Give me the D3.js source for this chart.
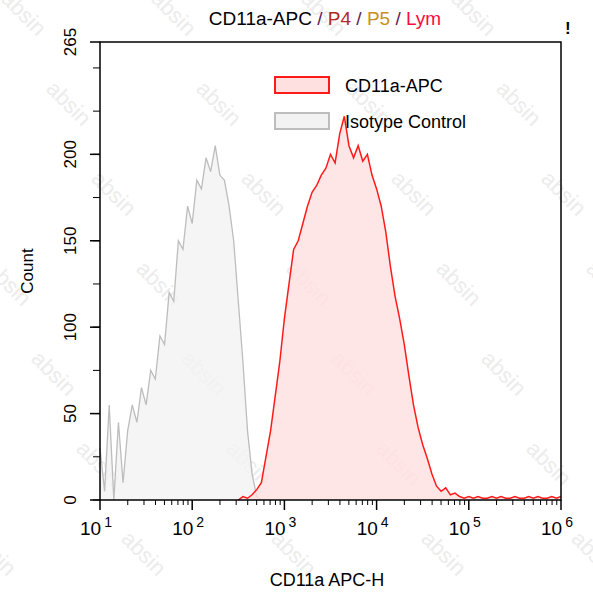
<!DOCTYPE html>
<html><head><meta charset="utf-8">
<script src="https://cdn.jsdelivr.net/npm/d3@7"></script>
<style>body{margin:0;background:#fff}text{font-family:"Liberation Sans",Arial,sans-serif}</style>
</head><body><svg id="svg" width="593" height="600"></svg>
<script>
// isotype control: counts on a log10 grid starting at 1.00, step 0.05
var isoStart = 1.0, step = 0.05
var isoCounts = [30,5,55,0,45,10,40,55,45,65,55,75,70,95,90,120,115,150,145,170,160,185,180,198,190,205,188,185,170,150,115,80,40,15,2,0]
// CD11a-APC: counts on a log10 grid starting at 2.50
var cdStart = 2.5
var cdCounts = [0,2,1,3,6,10,25,40,60,80,105,125,145,150,160,170,178,182,188,192,200,195,212,222,205,198,205,196,200,188,180,170,155,135,118,105,90,72,55,42,32,24,15,8,5,7,3,4,2,
  1,2,1,2,1,1,2,1,2,1,1,2,1,1,2,1,2,1,1,2,1,2]
var yTicks = [0,50,100,150,200,265]
var xDecades = [1,2,3,4,5,6]

var svg = d3.select("#svg")
var x = d3.scaleLinear().domain([1,6]).range([100,561])
var y = d3.scaleLinear().domain([0,265]).range([500,42])

// watermark
var wm = svg.append("g").attr("fill","#ececec").style("font-size","22px")
for (var r = -4; r < 12; r++) {
  for (var c = -2; c < 6; c++) {
    wm.append("text").attr("transform","translate("+(c*150 + r*45)+","+(r*90)+") rotate(45)").text("absin")
  }
}

function pts(start, counts) { return counts.map(function(v,i){ return [start + i*step, v] }) }
var area = d3.area().x(function(d){return x(d[0])}).y0(y(0)).y1(function(d){return y(d[1])})
var line = d3.line().x(function(d){return x(d[0])}).y(function(d){return y(d[1])})

var iso = pts(isoStart, isoCounts), cd = pts(cdStart, cdCounts)
svg.append("path").datum(iso).attr("d",area).attr("fill","#f2f2f2").attr("fill-opacity",0.8)
svg.append("path").datum(iso).attr("d",line).attr("fill","none").attr("stroke","#bdbdbd").attr("stroke-width",1.3)
svg.append("path").datum(cd).attr("d",area).attr("fill","#ffe0e0").attr("fill-opacity",0.8)
svg.append("path").datum(cd).attr("d",line).attr("fill","none").attr("stroke","#ff1a1a").attr("stroke-width",1.5)

// frame
svg.append("rect").attr("x",100).attr("y",42).attr("width",461).attr("height",458).attr("fill","none").attr("stroke","#000").attr("stroke-width",1.5)

// y axis
var yMinor = d3.range(0,266,25)
svg.append("g").selectAll("line").data(yMinor).join("line")
  .attr("x1",93).attr("x2",100).attr("y1",function(d){return y(d)}).attr("y2",function(d){return y(d)}).attr("stroke","#000")
svg.append("g").selectAll("line").data(yTicks).join("line")
  .attr("x1",90).attr("x2",100).attr("y1",function(d){return y(d)}).attr("y2",function(d){return y(d)}).attr("stroke","#000").attr("stroke-width",1.5)
svg.append("g").selectAll("text").data(yTicks).join("text")
  .attr("transform",function(d){return "translate(76,"+y(d)+") rotate(-90)"})
  .attr("text-anchor","middle").style("font-size","17px").text(function(d){return d})

// x axis
var minors = []
xDecades.slice(0,-1).forEach(function(dd){ for (var k=2;k<10;k++) minors.push(dd+Math.log10(k)) })
svg.append("g").selectAll("line").data(minors).join("line")
  .attr("x1",function(d){return x(d)}).attr("x2",function(d){return x(d)}).attr("y1",500).attr("y2",505).attr("stroke","#000")
svg.append("g").selectAll("line").data(xDecades).join("line")
  .attr("x1",function(d){return x(d)}).attr("x2",function(d){return x(d)}).attr("y1",500).attr("y2",510).attr("stroke","#000").attr("stroke-width",1.5)
var xl = svg.append("g").selectAll("text").data(xDecades).join("text")
  .attr("x",function(d){return x(d)-4}).attr("y",535).attr("text-anchor","middle").style("font-size","19px")
xl.append("tspan").text("10")
xl.append("tspan").attr("dy",-8).attr("dx",3).style("font-size","14px").text(function(d){return d})

svg.append("text").attr("x",327).attr("y",586).attr("text-anchor","middle").style("font-size","18px").text("CD11a APC-H")
svg.append("text").attr("transform","translate(33,271) rotate(-90)").attr("text-anchor","middle").style("font-size","17px").text("Count")

// title
var t = svg.append("text").attr("x",325).attr("y",25).attr("text-anchor","middle").style("font-size","19px")
t.append("tspan").attr("fill","#000").text("CD11a-APC ")
t.append("tspan").attr("fill","#602060").text("/ ")
t.append("tspan").attr("fill","#b02828").text("P4 ")
t.append("tspan").attr("fill","#602060").text("/ ")
t.append("tspan").attr("fill","#c8901e").text("P5")
t.append("tspan").attr("fill","#602060").text(" / ")
t.append("tspan").attr("fill","#ff0a3a").text("Lym")
svg.append("text").attr("x",565).attr("y",34).style("font-size","17px").style("font-weight","bold").text("!")

// legend
var legend = [["CD11a-APC","#ff1a1a","#ffe0e0"],["Isotype Control","#bdbdbd","#f2f2f2"]]
legend.forEach(function(l,i){
  svg.append("rect").attr("x",275).attr("y",77+i*36).attr("width",54).attr("height",16).attr("fill",l[2]).attr("stroke",l[1]).attr("stroke-width",2)
  svg.append("text").attr("x",345).attr("y",92+i*36).style("font-size","18px").text(l[0])
})
</script></body></html>
